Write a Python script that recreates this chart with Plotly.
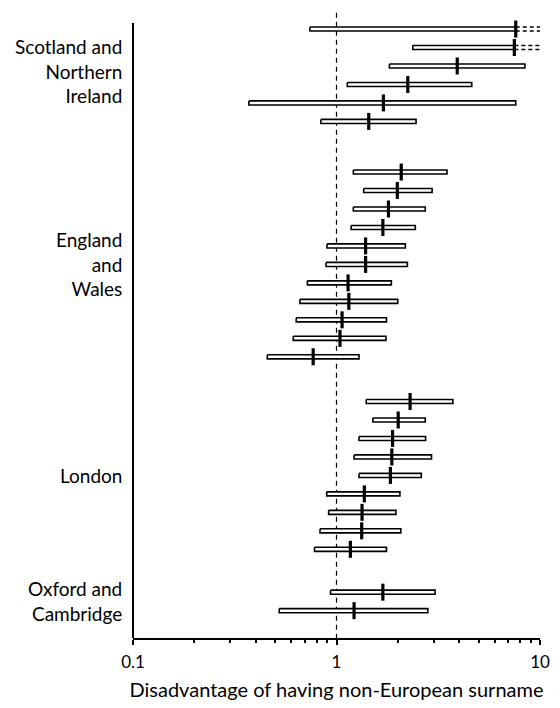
import plotly.graph_objects as go

# ---------------- data ----------------
group_labels = ["Scotland and<br>Northern<br>Ireland", "England<br>and<br>Wales", "London", "Oxford and<br>Cambridge"]

scot_lo = [0.74, 2.37, 1.82, 1.13, 0.371, 0.838]
scot_est = [7.6, 7.48, 3.92, 2.24, 1.70, 1.44]
scot_hi = [None, None, 8.43, 4.62, 7.6, 2.46]   # None = upper limit beyond 10

eng_lo = [1.21, 1.36, 1.21, 1.18, 0.898, 0.888, 0.719, 0.661, 0.634, 0.613, 0.457]
eng_est = [2.08, 1.99, 1.80, 1.69, 1.39, 1.39, 1.14, 1.15, 1.065, 1.04, 0.768]
eng_hi = [3.49, 2.95, 2.73, 2.44, 2.18, 2.23, 1.86, 2.00, 1.76, 1.75, 1.29]

lon_lo = [1.40, 1.51, 1.29, 1.22, 1.29, 0.895, 0.915, 0.83, 0.78]
lon_est = [2.30, 2.01, 1.886, 1.87, 1.84, 1.37, 1.335, 1.33, 1.17]
lon_hi = [3.73, 2.73, 2.74, 2.93, 2.61, 2.05, 1.96, 2.07, 1.76]

ox_lo = [0.935, 0.523]
ox_est = [1.69, 1.22]
ox_hi = [3.05, 2.81]

x_tick_vals = [0.1, 1, 10]
x_tick_text = ["0.1", "1", "10"]
x_title = "Disadvantage of having non-European surname"

# ---------------- layout helpers ----------------
groups = [(scot_lo, scot_est, scot_hi), (eng_lo, eng_est, eng_hi),
          (lon_lo, lon_est, lon_hi), (ox_lo, ox_est, ox_hi)]
first_row = 0.28
group_gaps = [2.74, 2.42, 2.32]
label_shift_px = [4, 0, 0, 0]
XMAX = 10
BOX_H = 0.11
TICK_H = 0.46
FONT = "Lato, 'Open Sans', sans-serif"

box_x, box_y = [], []
tick_x, tick_y = [], []
dash_x, dash_y = [], []
label_pos = []
pos = first_row
for gi, (lo, est, hi) in enumerate(groups):
    start = pos
    for i in range(len(lo)):
        y = pos
        right = hi[i] if hi[i] is not None else est[i]
        box_x += [lo[i], right, right, lo[i], lo[i], None]
        box_y += [y - BOX_H, y - BOX_H, y + BOX_H, y + BOX_H, y - BOX_H, None]
        tick_x += [est[i], est[i], None]
        tick_y += [y - TICK_H, y + TICK_H, None]
        if hi[i] is None:
            dash_x += [right, XMAX, None, right, XMAX, None]
            dash_y += [y - BOX_H, y - BOX_H, None, y + BOX_H, y + BOX_H, None]
        pos += 1
    label_pos.append((start + pos - 1) / 2)
    if gi < len(group_gaps):
        pos += group_gaps[gi] - 1

y_bottom = 33.24
y_top = -0.75

fig = go.Figure()
fig.add_trace(go.Scatter(x=box_x, y=box_y, mode="lines", fill="toself",
                         fillcolor="white", line=dict(color="black", width=1.6),
                         hoverinfo="skip", showlegend=False))
fig.add_trace(go.Scatter(x=dash_x, y=dash_y, mode="lines",
                         line=dict(color="black", width=1.5, dash="4px,3px"),
                         hoverinfo="skip", showlegend=False, cliponaxis=False))
fig.add_trace(go.Scatter(x=tick_x, y=tick_y, mode="lines",
                         line=dict(color="black", width=3.2),
                         hoverinfo="skip", showlegend=False))

# reference line at 1
fig.add_shape(type="line", xref="x", yref="y", x0=1, x1=1, y0=-0.6, y1=y_bottom,
              line=dict(color="black", width=1.2, dash="5px,4px"), layer="below")
# y axis line
fig.add_shape(type="line", xref="paper", yref="y", x0=0, x1=0, y0=-0.04, y1=y_bottom,
              line=dict(color="black", width=2))

for lab, yp, ys in zip(group_labels, label_pos, label_shift_px):
    fig.add_annotation(text=lab, xref="paper", yref="y", x=0, y=yp, xanchor="right",
                       yanchor="middle", align="right", xshift=-9, yshift=ys,
                       showarrow=False,
                       font=dict(family=FONT, size=19, color="black"))

fig.update_xaxes(type="log", range=[-1, 1], tickvals=x_tick_vals, ticktext=x_tick_text,
                 ticks="outside", ticklen=5, tickwidth=2, tickcolor="black",
                 ticklabelstandoff=3,
                 showline=True, linewidth=2, linecolor="black", showgrid=False,
                 zeroline=False, tickfont=dict(family=FONT, size=17, color="black"),
                 minor=dict(tickvals=[0.2, 0.3, 0.4, 0.5, 0.6, 0.7, 0.8, 0.9,
                                      2, 3, 4, 5, 6, 7, 8, 9],
                            ticks="outside", ticklen=3, tickwidth=1.5,
                            tickcolor="black", showgrid=False),
                 title=dict(text=x_title, font=dict(family=FONT, size=20, color="black"),
                            standoff=12))
fig.update_yaxes(range=[y_bottom, y_top], showline=False, showticklabels=False,
                 showgrid=False, zeroline=False, ticks="")

fig.update_layout(width=560, height=708, margin=dict(l=133, r=13, t=10, b=59),
                  plot_bgcolor="white", paper_bgcolor="white", showlegend=False,
                  hovermode=False)

fig.write_html("out.html", config={"displayModeBar": False},
               post_script="document.body.style.margin='0px';")
